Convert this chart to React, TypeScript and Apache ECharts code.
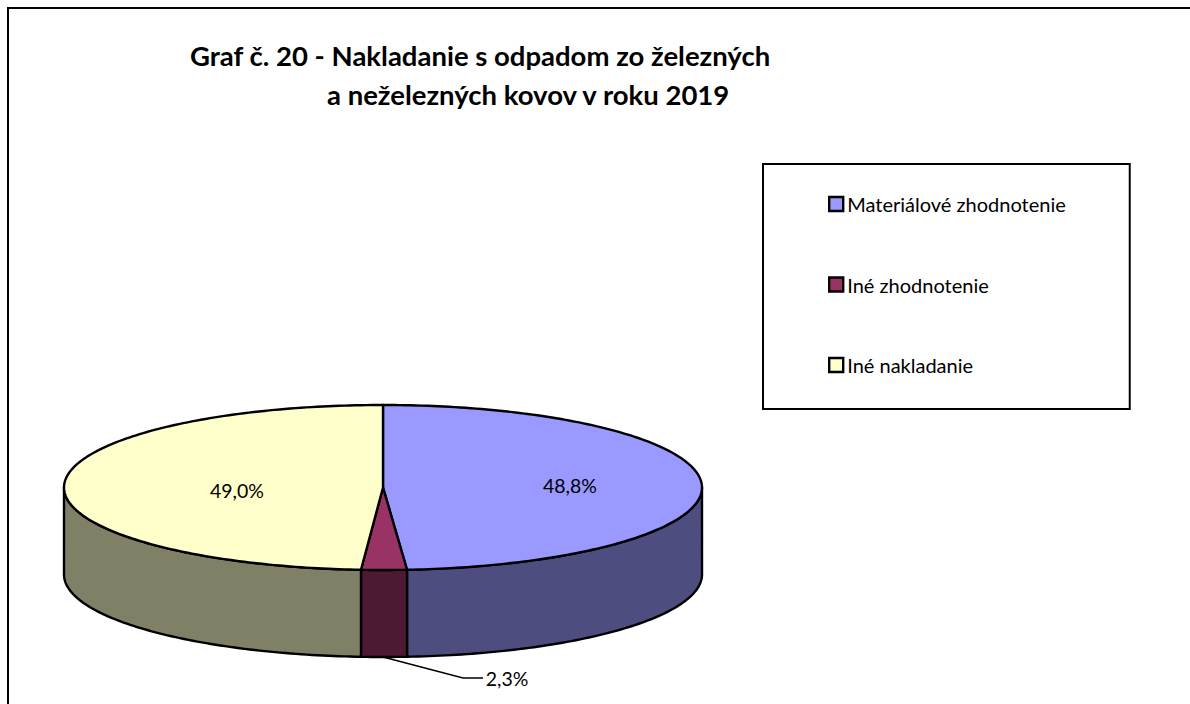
import React, { useEffect, useRef } from "react";
import * as echarts from "echarts";

const titleLines = ["Graf č. 20 - Nakladanie s odpadom zo železných", "a neželezných kovov v roku 2019"];
const categories = ["Materiálové zhodnotenie", "Iné zhodnotenie", "Iné nakladanie"];
const values = [48.8, 2.3, 49.0];
const topColors = ["#9999FF", "#993366", "#FFFFCC"];
const sideColors = ["#4D4D80", "#4D1933", "#808066"];

const FONT = "Lato, Carlito, Calibri, sans-serif";
const CX = 383;
const CY = 487.5;
const RX = 319;
const RY = 82.5;
const DEPTH = 87;
const STROKE = 2.4;
const labelAnchors: number[][] = [[570, 485], [507, 678], [237, 490]];
const leader: number[][] = [[383, 657], [463, 678], [483, 678]];

const pointAt = (deg: number, dy = 0) => {
  const r = (deg * Math.PI) / 180;
  return [CX + RX * Math.sin(r), CY - RY * Math.cos(r) + dy];
};

const arc = (from: number, to: number, dy = 0) => {
  const pts: number[][] = [];
  const n = Math.max(2, Math.ceil(Math.abs(to - from)));
  for (let i = 0; i <= n; i++) pts.push(pointAt(from + ((to - from) * i) / n, dy));
  return pts;
};

const fmt = (v: number) => v.toFixed(1).replace(".", ",") + "%";

const sliceSeries = (i: number) => {
  const start = values.slice(0, i).reduce((a, b) => a + b, 0) * 3.6;
  const end = i === values.length - 1 ? 360 : start + values[i] * 3.6;
  return {
    type: "custom",
    name: categories[i],
    coordinateSystem: "none",
    silent: true,
    data: [values[i]],
    itemStyle: { color: topColors[i] },
    renderItem: () => {
      const children: any[] = [];
      const sStart = Math.max(start, 90);
      const sEnd = Math.min(end, 270);
      if (sEnd > sStart) {
        children.push({
          type: "polygon",
          shape: { points: [...arc(sStart, sEnd), ...arc(sEnd, sStart, DEPTH)] },
          style: { fill: sideColors[i], stroke: "#000", lineWidth: STROKE, lineJoin: "round" },
        });
      }
      children.push({
        type: "polygon",
        shape: { points: [[CX, CY], ...arc(start, end)] },
        style: { fill: topColors[i], stroke: "#000", lineWidth: STROKE, lineJoin: "round" },
      });
      if (i === 1) {
        children.push({
          type: "polyline",
          shape: { points: leader },
          style: { fill: "none", stroke: "#000", lineWidth: 1.5 },
        });
      }
      children.push({
        type: "text",
        x: labelAnchors[i][0],
        y: labelAnchors[i][1],
        style: {
          text: fmt(values[i]),
          fill: "#000",
          font: `19.5px ${FONT}`,
          align: "center",
          verticalAlign: "middle",
        },
      });
      return { type: "group", children };
    },
  };
};

export default function App() {
  const ref = useRef<HTMLDivElement>(null);
  useEffect(() => {
    const chart = echarts.init(ref.current!, null, { renderer: "svg" });
    chart.setOption({
      animation: false,
      backgroundColor: "#fff",
      title: [
        {
          text: titleLines[0],
          left: 190,
          top: 41,
          padding: 0,
          textStyle: { fontFamily: FONT, fontSize: 27.5, fontWeight: "bold", color: "#000" },
        },
        {
          text: titleLines[1],
          left: 327,
          top: 80,
          padding: 0,
          textStyle: { fontFamily: FONT, fontSize: 27.5, fontWeight: "bold", color: "#000" },
        },
      ],
      legend: {
        orient: "vertical",
        left: 763,
        top: 164,
        padding: [30, 64, 34, 65],
        itemWidth: 14,
        itemHeight: 14,
        itemGap: 60.5,
        selectedMode: false,
        backgroundColor: "#fff",
        borderColor: "#000",
        borderWidth: 2,
        borderRadius: 0,
        icon: "rect",
        textStyle: { fontFamily: FONT, fontSize: 20, color: "#000", padding: [0, 0, 0, -1] },
        data: categories.map((name, i) => ({
          name,
          itemStyle: { color: topColors[i], borderColor: "#000", borderWidth: 2.4 },
        })),
      },
      graphic: [
        {
          type: "polyline",
          silent: true,
          shape: { points: [[8, 704], [8, 8], [1190, 8]] },
          style: { fill: "none", stroke: "#000", lineWidth: 2 },
        },
      ],
      series: categories.map((_, i) => sliceSeries(i)),
    });
    return () => chart.dispose();
  }, []);
  return <div ref={ref} style={{ position: "fixed", left: 0, top: 0, width: 1190, height: 704 }} />;
}
